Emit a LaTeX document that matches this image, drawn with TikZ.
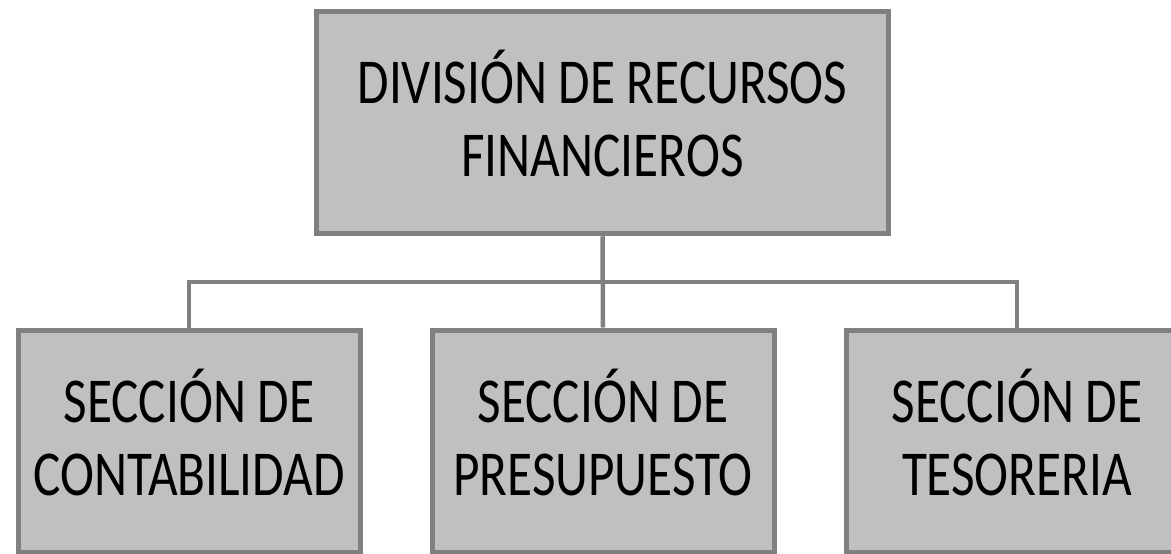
\documentclass[tikz,border=0pt]{standalone}
\usepackage{fontspec}
\setmainfont{Carlito}[FakeStretch=0.8]
\usetikzlibrary{calc,positioning}
\definecolor{boxFill}{HTML}{C0C0C0}
\definecolor{boxLine}{HTML}{808080}
\tikzset{
myBox/.style={
	rectangle,draw=boxLine,fill=boxFill,line width=5pt,
	inner sep=0pt,align=center,text=black,text depth=18pt,
	font=\fontsize{64}{73}\selectfont
}
, myTop/.style={
	myBox,minimum width=572pt,minimum height=222pt
}
, mySection/.style={
	myBox,minimum width=342pt,minimum height=222pt
}
% link
, myLink/.style={draw=boxLine,line width=4.5pt}
}
\begin{document}
\begin{tikzpicture}[x=1pt,y=-1pt,node distance=67pt]
	\useasboundingbox[fill=white] (0,0) rectangle (1171,554);
	% nodes
	\node[myTop] (Division) at (602.5,122.75) {DIVISIÓN DE RECURSOS\\FINANCIEROS};
	\node[mySection] (Contab) at (189,441) {SECCIÓN DE\\CONTABILIDAD};
	\node[mySection] (Presup) [right=of Contab] {SECCIÓN DE\\PRESUPUESTO};
	\node[mySection] (Tesor) [right=of Presup] {SECCIÓN DE\\TESORERIA};
	% links
	\draw[myLink] (Division.south) -- (Presup.north);
	\draw[myLink] (Contab.north) |- ($(Division.south)!0.5!(Presup.north)$) -| (Tesor.north);
\end{tikzpicture}
\end{document}
